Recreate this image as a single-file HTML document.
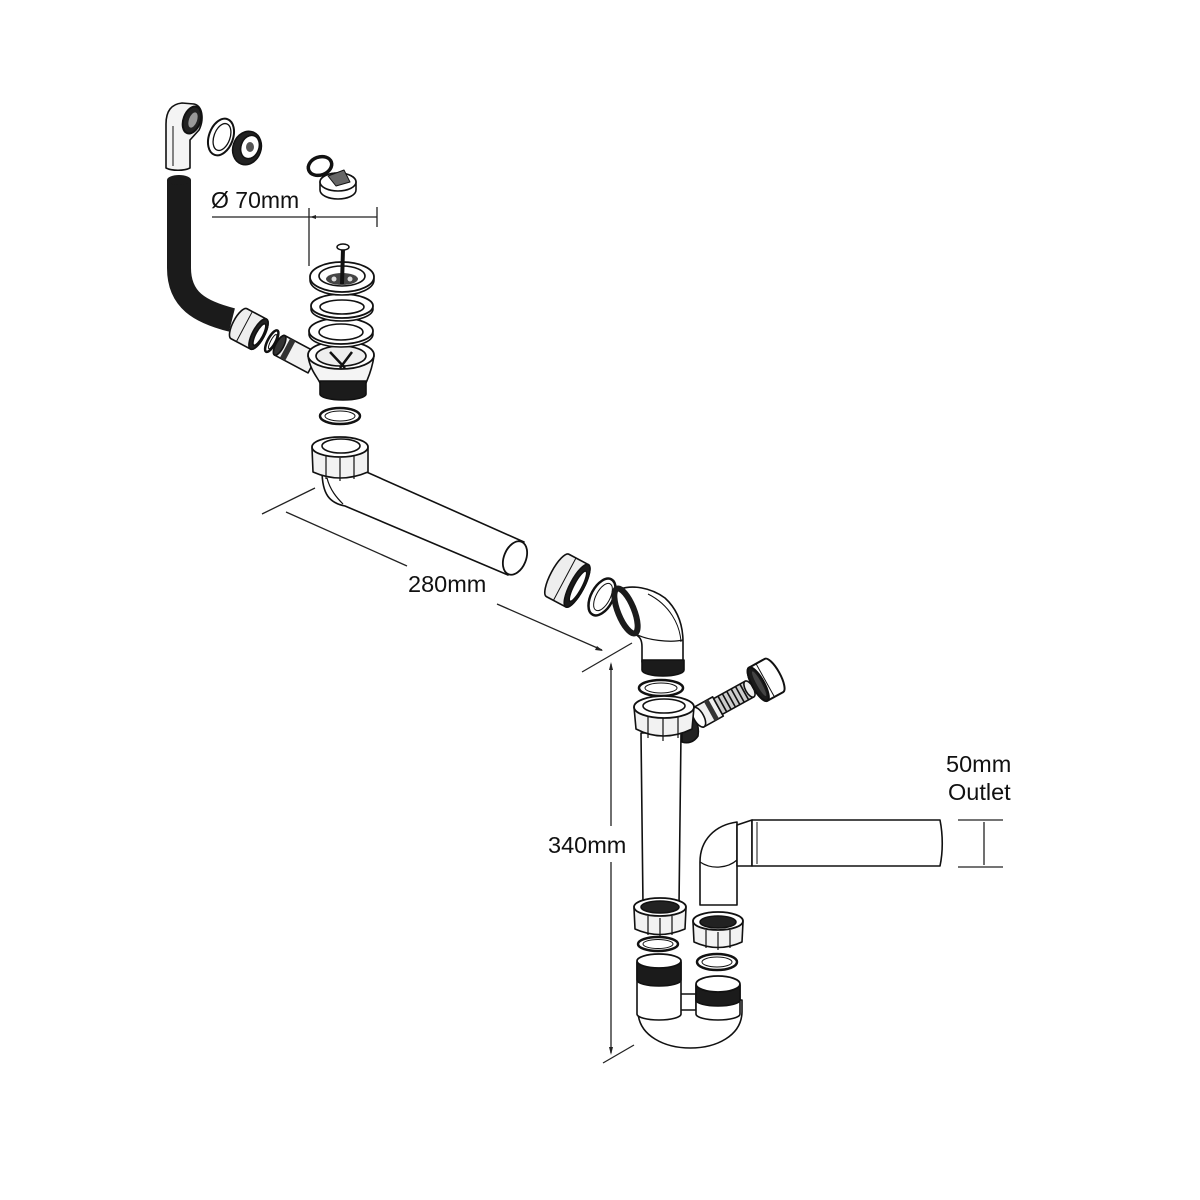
<!DOCTYPE html>
<html><head><meta charset="utf-8">
<style>
html,body{margin:0;padding:0;background:#fff;}
svg{display:block;}
text{font-family:"Liberation Sans",sans-serif;fill:#111;}
</style></head><body>
<svg width="1200" height="1200" viewBox="0 0 1200 1200" xmlns="http://www.w3.org/2000/svg">
<rect width="1200" height="1200" fill="#fff"/>
<g fill="#fff" stroke="#111" stroke-width="1.6" stroke-linejoin="round">

<!-- ===== Overflow elbow ===== -->
<path d="M166,168 L166,124 C166,110 172,104 182,103 L194,104 C203,106 204,120 199,130 L190,140 L190,168 C184,171 172,171 166,168 Z" fill="#f4f4f4"/>
<line x1="173" y1="126" x2="173" y2="166" stroke-width="1"/>
<ellipse cx="192" cy="120" rx="8.5" ry="14" transform="rotate(20 192 120)" fill="#222" stroke-width="2"/>
<ellipse cx="193" cy="120" rx="4" ry="8" transform="rotate(20 193 120)" fill="#999" stroke="none"/>
<!-- washer -->
<ellipse cx="221" cy="137" rx="12" ry="19" transform="rotate(20 221 137)" fill="#fff" stroke-width="2"/>
<ellipse cx="222" cy="137" rx="8" ry="14" transform="rotate(20 222 137)" fill="#fff" stroke-width="1.3"/>
<!-- small nut -->
<ellipse cx="247" cy="148" rx="14" ry="17" transform="rotate(20 247 148)" fill="#222"/>
<ellipse cx="250" cy="147" rx="9" ry="12" transform="rotate(20 250 147)" fill="#fff"/>
<ellipse cx="250" cy="147" rx="4" ry="5" fill="#555" stroke="none"/>

<!-- ===== Plug and chain ring ===== -->
<ellipse cx="320" cy="166" rx="12" ry="9" transform="rotate(-20 320 166)" fill="none" stroke="#111" stroke-width="3.5"/>
<path d="M320,190 L320,182 A18,9 0 0 1 356,182 L356,190 A18,9 0 0 1 320,190 Z" fill="#fff"/>
<ellipse cx="338" cy="182" rx="18" ry="9" fill="#fff"/>
<path d="M328,176 L344,170 L350,182 L336,186 Z" fill="#666" stroke-width="1"/>

<!-- ===== Black hose ===== -->
<path d="M179,180 L179,268 C179,300 200,312 232,320" fill="none" stroke="#1b1b1b" stroke-width="24"/>
<ellipse cx="179" cy="180" rx="12" ry="5" fill="#1b1b1b" stroke="none"/>

<!-- ===== Side inlet (hose-to-strainer) ===== -->
<g transform="rotate(28 232 320)">
  <path d="M240,303 L262,303 A6,17 0 0 1 262,337 L240,337 A6,17 0 0 1 240,303 Z" fill="#eee"/>
  <line x1="246" y1="303" x2="246" y2="337" stroke-width="1"/>
  <ellipse cx="262" cy="320" rx="6" ry="17" fill="#222"/>
  <ellipse cx="263" cy="320" rx="3.5" ry="12" fill="#fff"/>
  <ellipse cx="277" cy="320" rx="4" ry="12" fill="#fff" stroke-width="2.5"/>
  <ellipse cx="278" cy="320" rx="2" ry="8" fill="#fff" stroke-width="1"/>
  <path d="M286,309 L324,309 L324,331 L286,331 A4,11 0 0 1 286,309 Z" fill="#f2f2f2"/>
  <ellipse cx="286" cy="320" rx="4" ry="11" fill="#333"/>
  <rect x="292" y="309" width="6" height="22" fill="#333" stroke="none"/>
</g>

<!-- ===== Strainer ===== -->
<path d="M308,356 C310,370 318,378 320,383 L366,383 C368,378 372,370 374,356 Z" fill="#f4f4f4"/>
<path d="M320,381 L320,394 A23,6 0 0 0 366,394 L366,381 Z" fill="#1b1b1b"/>
<ellipse cx="341" cy="355" rx="33" ry="14" fill="#fff" stroke-width="1.8"/>
<ellipse cx="341" cy="356" rx="25" ry="10" fill="#eee"/>
<path d="M330,352 L345,368 M352,352 L340,368" stroke-width="2.5"/>
<ellipse cx="341" cy="334" rx="32" ry="13" fill="#fff"/>
<ellipse cx="341" cy="331" rx="32" ry="13" fill="#fff" stroke-width="1.8"/>
<ellipse cx="341" cy="332" rx="22" ry="8" fill="#fff"/>
<ellipse cx="342" cy="309" rx="31" ry="12" fill="#fff"/>
<ellipse cx="342" cy="306" rx="31" ry="12" fill="#fff" stroke-width="1.8"/>
<ellipse cx="342" cy="307" rx="22" ry="7" fill="#fff"/>
<ellipse cx="342" cy="280" rx="32" ry="15" fill="#fff"/>
<ellipse cx="342" cy="277" rx="32" ry="15" fill="#fff" stroke-width="1.8"/>
<ellipse cx="342" cy="276" rx="23" ry="10" fill="#fff"/>
<ellipse cx="342" cy="279" rx="16" ry="6" fill="#444" stroke="none"/>
<circle cx="334" cy="279" r="2.5" fill="#ddd" stroke="none"/>
<circle cx="350" cy="279" r="2.5" fill="#ddd" stroke="none"/>
<line x1="343" y1="249" x2="342" y2="284" stroke="#111" stroke-width="4"/>
<ellipse cx="343" cy="247" rx="6" ry="3" fill="#fff" stroke-width="1.5"/>

<!-- ===== Washer under strainer ===== -->
<ellipse cx="340" cy="416" rx="20" ry="8" fill="#fff" stroke-width="2.5"/>
<ellipse cx="340" cy="416" rx="15" ry="5" fill="#fff" stroke-width="1"/>

<!-- ===== Elbow + 280 pipe ===== -->
<path d="M322,470 C322,495 330,503 345,506 L508,575 L524,542 L362,470 Z" fill="#fff"/>
<path d="M327,478 C330,490 337,498 343,504" fill="none" stroke-width="1.2"/>
<ellipse cx="515" cy="558" rx="11" ry="17.5" transform="rotate(22 515 558)" fill="#fff" stroke-width="1.8"/>
<path d="M312,448 L313,472 Q340,484 368,472 L368,448 Z" fill="#f2f2f2"/>
<path d="M326,456 L326,479 M354,456 L354,479 M340,458 L340,481" stroke-width="1.2"/>
<ellipse cx="340" cy="447" rx="28" ry="10" fill="#fff" stroke-width="1.8"/>
<ellipse cx="341" cy="446" rx="19" ry="7" fill="#fff"/>

<!-- ===== Nut, washer before upper elbow ===== -->
<g transform="rotate(28 570 582)">
  <path d="M556,558 L578,558 A7,24 0 0 1 578,606 L556,606 A7,24 0 0 1 556,558 Z" fill="#eee"/>
  <line x1="564" y1="558" x2="564" y2="606" stroke-width="1"/>
  <ellipse cx="578" cy="582" rx="7" ry="24" fill="#1b1b1b"/>
  <ellipse cx="579" cy="582" rx="4" ry="17" fill="#fff"/>
</g>
<ellipse cx="602" cy="597" rx="11" ry="20" transform="rotate(28 602 597)" fill="#fff" stroke-width="2.5"/>
<ellipse cx="603" cy="597" rx="7" ry="15" transform="rotate(28 603 597)" fill="#fff" stroke-width="1"/>

<!-- ===== Upper elbow ===== -->
<path d="M620,589 C632,585 650,587 665,598 C678,610 683,625 683,642 L683,662 L642,662 L642,647 C642,640 640,636 634,634 Z" fill="#fff"/>
<path d="M648,594 C670,605 680,625 681,642" fill="none" stroke-width="1"/>
<path d="M636,634 C646,640 670,643 683,640" fill="none" stroke-width="1.2"/>
<ellipse cx="626" cy="611" rx="8" ry="24" transform="rotate(-22 626 611)" fill="#fff" stroke="#1b1b1b" stroke-width="6"/>
<path d="M642,660 L642,670 A21,6 0 0 0 684,670 L684,660 Z" fill="#1b1b1b"/>

<ellipse cx="661" cy="688" rx="22" ry="8" fill="#fff" stroke-width="2.5"/>
<ellipse cx="661" cy="688" rx="16" ry="5" fill="#fff" stroke-width="1"/>

<!-- ===== Side branch ===== -->
<path d="M682,712 C694,714 700,724 698,736 C694,742 688,744 682,742 Z" fill="#222"/>
<g transform="rotate(-29 690 722)">
  <path d="M700,711 L722,711 L722,733 L700,733 A5,11 0 0 1 700,711 Z" fill="#f0f0f0"/>
  <ellipse cx="700" cy="722" rx="5" ry="11" fill="#fff"/>
  <rect x="712" y="711" width="5" height="22" fill="#333" stroke="none"/>
  <path d="M722,713 L758,713 L758,731 L722,731 Z" fill="#ccc"/>
  <path d="M727,713 L727,731 M732,713 L732,731 M737,713 L737,731 M742,713 L742,731 M747,713 L747,731 M752,713 L752,731" stroke-width="1.6"/>
  <ellipse cx="758" cy="722" rx="4" ry="9" fill="#eee"/>
  <!-- nut: body white, open face toward hose dark -->
  <path d="M768,703 L786,703 A6,19 0 0 1 786,741 L768,741 A6,19 0 0 1 768,703 Z" fill="#fff" stroke-width="2"/>
  <path d="M776,703 L776,741" stroke-width="1"/>
  <ellipse cx="768" cy="722" rx="6" ry="19" fill="#1b1b1b" stroke-width="2"/>
  <ellipse cx="769" cy="722" rx="2.5" ry="14" fill="#444" stroke="none"/>
</g>

<!-- ===== Vertical pipe ===== -->
<path d="M641,733 L681,733 L679,905 L643,905 Z" fill="#fff"/>
<path d="M634,707 L636,729 Q663,743 692,729 L694,707 Z" fill="#f2f2f2"/>
<path d="M648,716 L648,738 M678,716 L678,738 M663,718 L663,741" stroke-width="1.2"/>
<ellipse cx="664" cy="707" rx="30" ry="11" fill="#fff" stroke-width="1.8"/>
<ellipse cx="664" cy="706" rx="21" ry="7" fill="#fff"/>

<path d="M634,908 L635,929 Q659,940 685,929 L686,908 Z" fill="#f2f2f2"/>
<path d="M648,916 L648,935 M672,916 L672,935 M660,918 L660,937" stroke-width="1.2"/>
<ellipse cx="660" cy="907" rx="26" ry="9" fill="#fff" stroke-width="1.8"/>
<ellipse cx="660" cy="907" rx="19" ry="6" fill="#222"/>
<ellipse cx="658" cy="944" rx="20" ry="7" fill="#fff" stroke-width="2.5"/>
<ellipse cx="658" cy="944" rx="15" ry="4.5" fill="#fff" stroke-width="1"/>

<!-- ===== Outlet elbow + pipe ===== -->
<path d="M700,905 L700,862 C700,840 715,825 737,822 L737,866 L737,905 Z" fill="#fff"/>
<path d="M700,862 C712,870 728,868 737,860" fill="none" stroke-width="1.2"/>
<path d="M737,825 L752,820 L752,866 L737,866 Z" fill="#fff"/>
<path d="M752,820 L940,820 C943,835 943,852 940,866 L752,866 Z" fill="#fff"/>
<line x1="757" y1="822" x2="757" y2="864" stroke-width="1"/>

<path d="M693,922 L694,942 Q718,953 742,942 L743,922 Z" fill="#f2f2f2"/>
<path d="M706,930 L706,948 M730,930 L730,948 M718,932 L718,950" stroke-width="1.2"/>
<ellipse cx="718" cy="921" rx="25" ry="9" fill="#fff" stroke-width="1.8"/>
<ellipse cx="718" cy="922" rx="18" ry="6" fill="#222"/>
<ellipse cx="717" cy="962" rx="20" ry="8" fill="#fff" stroke-width="2.5"/>
<ellipse cx="717" cy="962" rx="15" ry="5" fill="#fff" stroke-width="1"/>

<!-- ===== U-bend ===== -->
<path d="M638,1000 L638,1012 C640,1060 741,1060 742,1012 L742,1000 Z" fill="#fff"/>
<rect x="680" y="994" width="16" height="16" fill="#fff"/>
<path d="M637,962 L637,1014 A22,6 0 0 0 681,1014 L681,962 Z" fill="#fff"/>
<path d="M637,962 L637,980 A22,6 0 0 0 681,980 L681,962 Z" fill="#1b1b1b"/>
<ellipse cx="659" cy="961" rx="22" ry="7" fill="#fff" stroke-width="1.8"/>
<path d="M696,985 L696,1014 A22,6 0 0 0 740,1014 L740,985 Z" fill="#fff"/>
<path d="M696,985 L696,1000 A22,6 0 0 0 740,1000 L740,985 Z" fill="#1b1b1b"/>
<ellipse cx="718" cy="984" rx="22" ry="8" fill="#fff" stroke-width="1.8"/>
</g>

<!-- ===== Dimensions ===== -->
<g stroke="#222" stroke-width="1.3" fill="none">
  <line x1="212" y1="217" x2="377" y2="217"/>
  <line x1="377" y1="207" x2="377" y2="227"/>
  <line x1="309" y1="208" x2="309" y2="266"/>
  <line x1="262" y1="514" x2="315" y2="488"/>
  <line x1="286" y1="512" x2="407" y2="566"/>
  <line x1="497" y1="604" x2="602" y2="650"/>
  <line x1="582" y1="672" x2="632" y2="643"/>
  <line x1="611" y1="664" x2="611" y2="826"/>
  <line x1="611" y1="862" x2="611" y2="1053"/>
  <line x1="603" y1="1063" x2="634" y2="1045"/>
  <line x1="958" y1="820" x2="1003" y2="820"/>
  <line x1="958" y1="867" x2="1003" y2="867"/>
  <line x1="984" y1="822" x2="984" y2="865"/>
</g>
<g fill="#222">
  <path d="M611,662 L609,670 L613,670 Z"/>
  <path d="M611,1055 L609,1047 L613,1047 Z"/>
  <path d="M603,651 L595,650 L597,646 Z"/>
  <path d="M310,217 L316,215 L316,219 Z"/>
</g>

<text x="211" y="208" font-size="23">Ø 70mm</text>
<text x="408" y="592" font-size="23.5">280mm</text>
<text x="548" y="853" font-size="23.5">340mm</text>
<text x="946" y="772" font-size="23.5">50mm</text>
<text x="948" y="800" font-size="23.5">Outlet</text>
</svg>
</body></html>
